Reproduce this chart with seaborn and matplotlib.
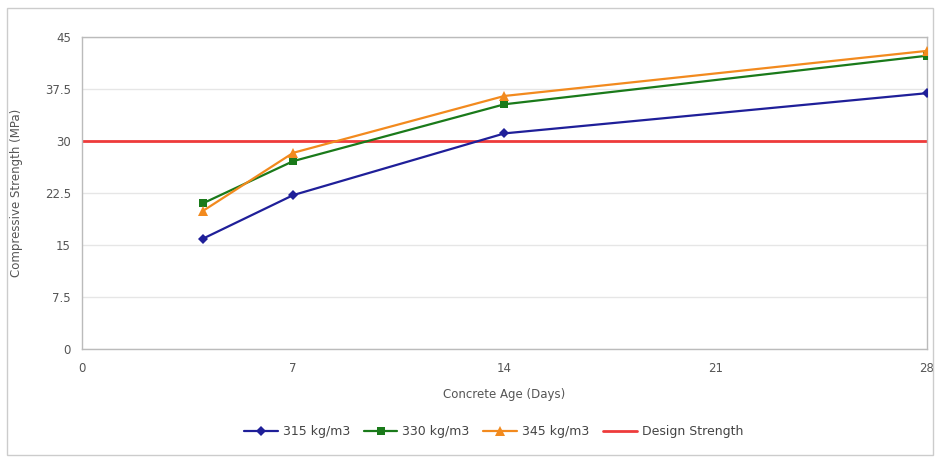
import matplotlib
matplotlib.use("Agg")
import matplotlib.pyplot as plt
import seaborn as sns
import pandas as pd
from matplotlib.patches import Rectangle

days = [4, 7, 14, 28]
s315 = [15.9, 22.2, 31.1, 36.9]
s330 = [21.0, 27.1, 35.3, 42.3]
s345 = [19.9, 28.3, 36.5, 43.0]
design = 30
series_names = ["315 kg/m3", "330 kg/m3", "345 kg/m3"]
design_name = "Design Strength"
x_ticks = [0, 7, 14, 21, 28]
y_ticks = [0, 7.5, 15, 22.5, 30, 37.5, 45]
y_labels = ["0", "7.5", "15", "22.5", "30", "37.5", "45"]

sns.set_style("white")
plt.rcParams['font.family'] = ['DejaVu Sans']

fig = plt.figure(figsize=(9.35, 4.57), dpi=100)
ax = fig.add_axes([0.0877, 0.2363, 0.9037, 0.6827])

df = pd.DataFrame({
    "day": days * 3,
    "val": s315 + s330 + s345,
    "series": sum([[n] * len(days) for n in series_names], []),
})
colors = {"315 kg/m3": "#1f1f99", "330 kg/m3": "#1a7a1a", "345 kg/m3": "#f28a1e"}
markers = {"315 kg/m3": "D", "330 kg/m3": "s", "345 kg/m3": "^"}
sizes = {"315 kg/m3": 5, "330 kg/m3": 6, "345 kg/m3": 7}

ax.axhline(design, color="#ee3b3b", lw=2, label=design_name, zorder=2)
for n in series_names:
    sub = df[df.series == n]
    sns.lineplot(data=sub, x="day", y="val", ax=ax, color=colors[n], marker=markers[n],
                 markersize=sizes[n], markeredgewidth=0, lw=1.6, label=n, zorder=3)

ax.set_xlim(0, 28)
ax.set_ylim(0, 45)
ax.set_xticks(x_ticks)
ax.set_yticks(y_ticks)
ax.set_yticklabels(y_labels)
ax.tick_params(labelsize=8.5, colors="#555555", length=0)
ax.tick_params(axis="x", pad=9)
ax.tick_params(axis="y", pad=8)
ax.yaxis.grid(True, color="#e6e6e6", lw=1)
ax.xaxis.grid(False)
for s in ax.spines.values():
    s.set_color("#bbbbbb")
    s.set_linewidth(1)
ax.set_xlabel("Concrete Age (Days)", fontsize=8.5, color="#555555", labelpad=10)
ax.set_ylabel("Compressive Strength (MPa)", fontsize=8.5, color="#555555", labelpad=16)

h, l = ax.get_legend_handles_labels()
order = [l.index(n) for n in series_names] + [l.index(design_name)]
ax.legend([h[i] for i in order], [l[i] for i in order], loc="center",
          bbox_to_anchor=(0.528, 0.055), bbox_transform=fig.transFigure, ncol=4,
          frameon=False, fontsize=9, handlelength=2.7, handletextpad=0.4,
          columnspacing=1.1, labelcolor="#444444")

fig.patches.append(Rectangle((0.008, 0.004), 0.99, 0.978, transform=fig.transFigure,
                             fill=False, edgecolor="#cccccc", lw=1))

fig.savefig("out.png", dpi=100, facecolor="white")
